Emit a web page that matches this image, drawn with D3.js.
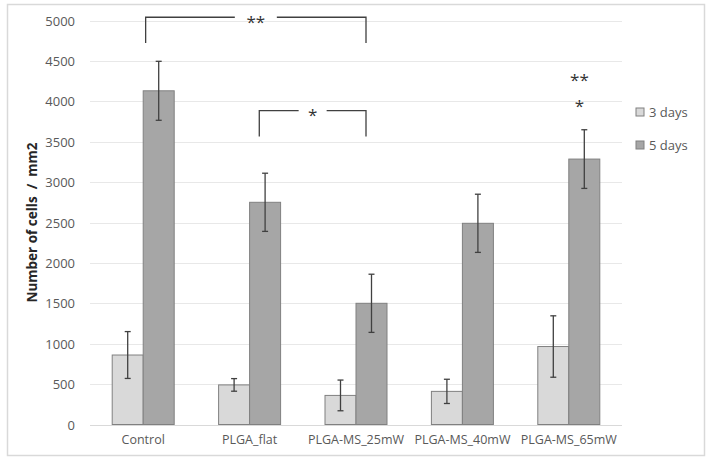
<!DOCTYPE html>
<html>
<head>
<meta charset="utf-8">
<script src="https://cdn.jsdelivr.net/npm/d3@7"></script>
<style>
  html, body { margin: 0; padding: 0; background: #fff; }
  text { font-family: "Open Sans", "Liberation Sans", sans-serif; }
</style>
</head>
<body>
<svg id="chart" width="711" height="463"></svg>
<script>
// ---- data ----
const categories = ["Control", "PLGA_flat", "PLGA-MS_25mW", "PLGA-MS_40mW", "PLGA-MS_65mW"];
const seriesNames = ["3 days", "5 days"];
const values3 = [860, 490, 360, 410, 965];
const errors3 = [290, 78, 190, 150, 380];
const values5 = [4130, 2750, 1500, 2490, 3285];
const errors5 = [365, 360, 360, 360, 363];
const yTicks = [0, 500, 1000, 1500, 2000, 2500, 3000, 3500, 4000, 4500, 5000];
const yTitle = "Number of cells  /  mm2";
// significance brackets
const bracketFrom = ["Control", "PLGA_flat"];
const bracketFromFrac = [0.523, 0.591];
const bracketTo = ["PLGA-MS_25mW", "PLGA-MS_25mW"];
const bracketToFrac = [0.594, 0.594];
const bracketTop = [5040, 3885];
const bracketLeg = [4720, 3565];
const bracketLabel = ["**", "*"];
// stars above 65mW
const starLabels = ["**", "*"];
const starValues = [4315, 3995];

const colors = ["#d9d9d9", "#a6a6a6"];

const svg = d3.select("#chart");

// frame
svg.append("rect").attr("x", 7.5).attr("y", 4.5).attr("width", 697).attr("height", 451)
  .attr("fill", "#fff").attr("stroke", "#d9d9d9").attr("stroke-width", 1.5);

const plot = { left: 90, right: 622, top: 20.5, bottom: 424.5 };

const x = d3.scaleBand().domain(categories).range([plot.left, plot.right]).paddingInner(0).paddingOuter(0);
const bw = x.bandwidth();
const barW = 31;
const y = d3.scaleLinear().domain([0, 5000]).range([plot.bottom, plot.top]);

// gridlines
svg.append("g").selectAll("line").data(yTicks).join("line")
  .attr("x1", plot.left).attr("x2", plot.right)
  .attr("y1", d => Math.round(y(d)) + 0.5).attr("y2", d => Math.round(y(d)) + 0.5)
  .attr("stroke", d => d === 0 ? "#d9d9d9" : "#e8e8e8").attr("stroke-width", 1);

// y axis labels
const yAxis = d3.axisLeft(y).tickValues(yTicks).tickSize(0).tickPadding(0).tickFormat(d3.format("d"));
const gy = svg.append("g").attr("transform", `translate(${plot.left - 15},0)`).call(yAxis);
gy.select(".domain").remove();
gy.selectAll("text").attr("fill", "#595959").style("font-size", "13px").attr("dy", "0.35em")
  .style("font-family", "'Open Sans', sans-serif");

// x axis labels
const xAxis = d3.axisBottom(x).tickSize(0).tickPadding(0);
const gx = svg.append("g").attr("transform", `translate(0,${plot.bottom + 11})`).call(xAxis);
gx.select(".domain").remove();
gx.selectAll("text").attr("fill", "#595959").style("font-size", "12.5px").attr("dy", "0.71em")
  .style("font-family", "'Open Sans', sans-serif");

// bars
const series = [
  { name: seriesNames[0], vals: values3, errs: errors3, color: colors[0], off: -barW },
  { name: seriesNames[1], vals: values5, errs: errors5, color: colors[1], off: 0 }
];
series.forEach(s => {
  const g = svg.append("g");
  g.selectAll("rect").data(categories).join("rect")
    .attr("x", (c) => x(c) + bw / 2 + s.off)
    .attr("y", (c, i) => y(s.vals[i]))
    .attr("width", barW)
    .attr("height", (c, i) => y(0) - y(s.vals[i]))
    .attr("fill", s.color).attr("stroke", "#808080").attr("stroke-width", 1);
});
// error bars
series.forEach(s => {
  const g = svg.append("g").attr("stroke", "#404040").attr("stroke-width", 1.3);
  categories.forEach((c, i) => {
    const cx = x(c) + bw / 2 + s.off + barW / 2;
    const y1 = y(s.vals[i] + s.errs[i]), y2 = y(s.vals[i] - s.errs[i]);
    g.append("line").attr("x1", cx).attr("x2", cx).attr("y1", y1).attr("y2", y2);
    g.append("line").attr("x1", cx - 3).attr("x2", cx + 3).attr("y1", y1).attr("y2", y1);
    g.append("line").attr("x1", cx - 3).attr("x2", cx + 3).attr("y1", y2).attr("y2", y2);
  });
});

// brackets
bracketLabel.forEach((lab, i) => {
  const x1 = x(bracketFrom[i]) + bw * bracketFromFrac[i];
  const x2 = x(bracketTo[i]) + bw * bracketToFrac[i];
  const yt = y(bracketTop[i]), yl = y(bracketLeg[i]);
  const mid = (x1 + x2) / 2;
  const gap = lab.length === 2 ? 21 : 14;
  const g = svg.append("g").attr("fill", "none").attr("stroke", "#404040").attr("stroke-width", 1.3);
  g.append("path").attr("d", `M${x1},${yl}V${yt}H${mid - gap}`);
  g.append("path").attr("d", `M${mid + gap},${yt}H${x2}V${yl}`);
  svg.append("text").attr("x", mid).attr("y", yt).attr("dy", "0.62em").attr("text-anchor", "middle")
    .attr("fill", "#333").style("font-size", "17px").text(lab);
});

// stars above PLGA-MS_65mW
starLabels.forEach((lab, i) => {
  svg.append("text").attr("x", x(categories[4]) + bw * 0.6).attr("y", y(starValues[i])).attr("dy", "0.62em")
    .attr("text-anchor", "middle").attr("fill", "#333").style("font-size", "17px").text(lab);
});

// legend
const lg = svg.append("g");
seriesNames.forEach((n, i) => {
  const ly = 112 + i * 33;
  lg.append("rect").attr("x", 636).attr("y", ly - 4).attr("width", 8).attr("height", 8)
    .attr("fill", colors[i]).attr("stroke", "#808080").attr("stroke-width", 1);
  lg.append("text").attr("x", 649).attr("y", ly).attr("dy", "0.35em").attr("fill", "#595959")
    .style("font-size", "13px").text(n);
});

// y title
svg.append("text").attr("transform", `translate(37,${(plot.top + plot.bottom) / 2}) rotate(-90)`)
  .attr("text-anchor", "middle").attr("fill", "#262626").style("font-size", "13.5px").style("font-weight", "bold")
  .style("white-space", "pre").attr("xml:space", "preserve")
  .text(yTitle);
</script>
</body>
</html>
